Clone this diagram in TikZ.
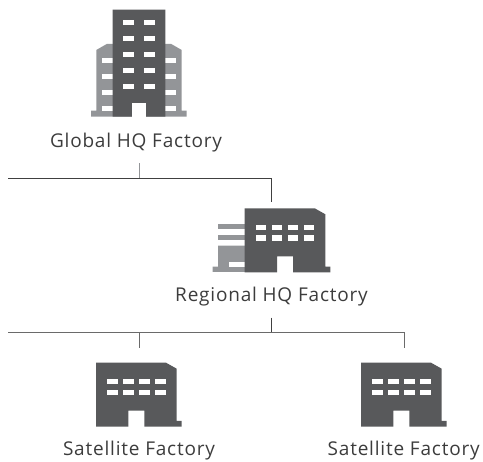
\documentclass[tikz,border=0pt]{standalone}
\usepackage{fontspec}
\setmainfont{Open Sans}[LetterSpace=4.2]
\definecolor{dk}{HTML}{58595B}
\definecolor{gr}{HTML}{939598}
\definecolor{ln}{HTML}{404040}
\definecolor{lm}{HTML}{6A6A6A}
\definecolor{tx}{HTML}{3C3C3C}
\tikzset{
 lbl/.style={text=tx,font=\fontsize{19}{22}\selectfont,inner sep=0pt,anchor=base},
 conn/.style={draw=ln,line width=0.9pt},
 conng/.style={draw=lm,line width=1pt},
 stub/.style={draw=gr,line width=1pt},
 win/.style={fill=white},
 dark/.style={fill=dk},
 grey/.style={fill=gr}
}
\newcommand{\winrow}[1]{\foreach \wx in {0,16,32,48}{\fill[win] (\wx+10.8,#1) rectangle (\wx+21.5,#1+5.2);}}
\newcommand{\plant}[1]{\begin{scope}[shift={(#1)}]
 \fill[dark] (0,0) -- (70,0) -- (80.7,6) -- (80.7,58.3) -- (85.7,58.3) -- (85.7,64) -- (48.3,64) -- (48.3,48) -- (32.3,48) -- (32.3,64) -- (0,64) -- cycle;
 \winrow{16.5}\winrow{27.2}
\end{scope}}
\begin{document}
\begin{tikzpicture}[x=1pt,y=-1pt]
\useasboundingbox (0,0) rectangle (483,462);
% global HQ tower
\fill[grey] (91,110.7) -- (96.3,110.7) -- (96.3,50) -- (106.7,44) -- (171.3,44) -- (181.7,50) -- (181.7,110.7) -- (186.7,110.7) -- (186.7,116.7) -- (91,116.7) -- cycle;
\foreach \wy in {57.7,73.7,89.7,105.7}{
 \fill[win] (101.7,\wy) rectangle (112.7,\wy+5.2);
 \fill[win] (165.3,\wy) rectangle (176.3,\wy+5.2);}
\fill[dark] (112.7,9.7) -- (165.3,9.7) -- (165.3,116.7) -- (145.7,116.7) -- (145.7,103.3) -- (132.3,103.3) -- (132.3,116.7) -- (112.7,116.7) -- cycle;
\fill[win] (132.3,103.3) rectangle (145.7,116.9);
\foreach \wy in {20.3,36.3,52.3,68.3,84.3}{
 \fill[win] (123.3,\wy) rectangle (134,\wy+5);
 \fill[win] (144.3,\wy) rectangle (155,\wy+5);}
% regional HQ
\fill[grey] (218,224.3) rectangle (245,229.3);
\fill[grey] (218,235) rectangle (245,240);
\fill[grey] (218,245.7) -- (245,245.7) -- (245,272) -- (212.7,272) -- (212.7,266.7) -- (218,266.7) -- cycle;
\fill[win] (228.7,261.7) rectangle (245,266.7);
\plant{244.7,208.3}
\plant{96,362.7}
\plant{361,362.7}
% labels
\node[lbl] (global) at (136,147.5) {Global HQ Factory};
\node[lbl] (regional) at (271.5,302) {Regional HQ Factory};
\node[lbl] (sat1) at (139,456) {Satellite Factory};
\node[lbl] (sat2) at (403.7,456) {Satellite Factory};
% connectors
\coordinate (a0) at (8,178.3);
\coordinate (a1) at (139,178.3);
\coordinate (a2) at (271.7,178.3);
\coordinate (a3) at (271.7,202.3);
\coordinate (a4) at (139,163.3);
\draw[conn] (a0) -- (a2) -- (a3);
\draw[stub] (a4) -- (a1);
\coordinate (b0) at (8,332.3);
\coordinate (b1) at (139,332.3);
\coordinate (b2) at (271.4,332.3);
\coordinate (b3) at (404.3,332.3);
\coordinate (b4) at (271.4,317.7);
\coordinate (b5) at (139,347.7);
\coordinate (b6) at (404.3,347.7);
\draw[conng] (b0) -- (b3) -- (b6);
\draw[conn] (b4) -- (b2);
\draw[conng] (b1) -- (b5);
\end{tikzpicture}
\end{document}
